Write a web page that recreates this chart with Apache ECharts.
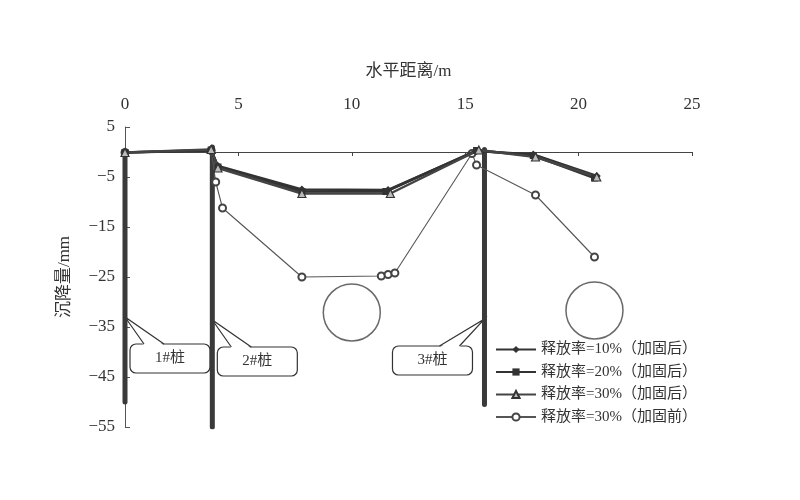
<!DOCTYPE html>
<html><head><meta charset="utf-8">
<script src="https://cdn.jsdelivr.net/npm/echarts@6/dist/echarts.min.js"></script>
<style>html,body{margin:0;padding:0;background:#fff}#c{width:800px;height:500px}</style>
</head><body><div id="c"></div>
<script>
// ---- data ----
const seriesNames = ['释放率=10%（加固后）','释放率=20%（加固后）','释放率=30%（加固后）','释放率=30%（加固前）'];
const rate10After = [[0,-0.1],[3.8,0.3],[4.1,-2.8],[7.8,-7.5],[11.6,-7.6],[15.5,0.2],[18.0,-0.5],[20.8,-4.8]];
const rate20After = [[0,-0.1],[3.8,0.4],[4.1,-3.0],[7.8,-7.9],[11.5,-7.9],[15.5,0.3],[18.0,-0.7],[20.7,-5.2]];
const rate30After = [[0,-0.1],[3.8,0.5],[4.1,-3.2],[7.8,-8.3],[11.7,-8.3],[15.6,0.4],[18.1,-1.0],[20.8,-5.0]];
const rate30Before = [[0,-0.1],[3.8,0.3],[4.0,-6.0],[4.3,-11.2],[7.8,-25.0],[11.3,-24.8],[11.6,-24.5],[11.9,-24.2],[15.3,-0.3],[15.5,-2.6],[18.1,-8.6],[20.7,-21.0]];
const pile1 = [[0,0],[0,-50]];
const pile2 = [[3.85,1.0],[3.85,-55]];
const pile3 = [[15.85,0.5],[15.85,-50.5]];
const pileLabels = ['1#桩','2#桩','3#桩'];
const pileLabelAnchors = [[0,-33.0,1],[3.85,-33.6,1],[15.85,-33.4,-1]];
const tunnels = [[10,-32.1],[20.7,-31.7]];
const xMin = 0, xMax = 25, xStep = 5;
const yMin = -55, yMax = 5, yStep = 10;
const xName = '水平距离/m';
const yName = '沉降量/mm';

const FONT = '"Liberation Serif","Noto Sans CJK SC",serif';
const INK = '#333';

const chart = echarts.init(document.getElementById('c'), null, {renderer:'canvas'});

function pileSeries(d){
  return {type:'line', data:d, symbol:'none', silent:true, z:3,
    lineStyle:{color:'#3a3a3a', width:5, cap:'round'}};
}

const option = {
  backgroundColor:'#fff',
  animation:false,
  grid:{left:125, right:108, top:127, bottom:73},
  legend:{
    data:seriesNames, orient:'vertical', left:490, top:337,
    itemWidth:40, itemHeight:9, itemGap:7.5,
    textStyle:{fontFamily:FONT, fontSize:15, color:INK}
  },
  xAxis:[
    {type:'value', position:'top', min:xMin, max:xMax, interval:xStep,
     name:xName, nameLocation:'middle', nameGap:47,
     nameTextStyle:{fontFamily:FONT, fontSize:17, color:INK},
     axisLine:{show:false, onZero:false}, axisTick:{show:false}, splitLine:{show:false},
     axisLabel:{fontFamily:FONT, fontSize:17, color:INK, margin:14}},
    {type:'value', position:'top', min:xMin, max:xMax, interval:xStep,
     axisLine:{show:true, onZero:true, onZeroAxisIndex:0, lineStyle:{color:'#444', width:1.2}},
     axisTick:{show:true, inside:true, length:4, lineStyle:{color:'#444'}},
     axisLabel:{show:false}, splitLine:{show:false}}
  ],
  yAxis:{type:'value', min:yMin, max:yMax, interval:yStep,
    name:yName, nameLocation:'middle', nameGap:52,
    nameTextStyle:{fontFamily:FONT, fontSize:17, color:INK},
    axisLine:{show:true, onZero:false, lineStyle:{color:'#555', width:1}},
    axisTick:{show:true, inside:true, length:5, lineStyle:{color:'#555'}},
    splitLine:{show:false},
    axisLabel:{fontFamily:FONT, fontSize:17, color:INK, margin:10,
      formatter:v=>String(v).replace('-','−')}
  },
  series:[
    pileSeries(pile1), pileSeries(pile2), pileSeries(pile3),
    {type:'scatter', data:tunnels, symbol:'circle', symbolSize:57, silent:true, z:1,
     itemStyle:{color:'rgba(0,0,0,0)', borderColor:'#444', borderWidth:1.5}},
    {type:'custom', z:2, silent:true, data:pileLabelAnchors,
     renderItem:function(params, api){
       const p = api.coord([api.value(0), api.value(1)]);
       const side = api.value(2);
       const w = 80, h = 29, top = p[1]+27;
       let left, ta, tb;
       if(side > 0){ left = p[0]+5; ta = p[0]+19; tb = p[0]+39; }
       else { left = p[0]-92; ta = p[0]-45; tb = p[0]-25; }
       return {type:'group', children:[
         {type:'rect', shape:{x:left, y:top, width:w, height:h, r:6},
          style:{fill:'#fff', stroke:'#333', lineWidth:1.2}},
         {type:'polygon', shape:{points:[[ta,top+1.5],[p[0],p[1]],[tb,top+1.5]]},
          style:{fill:'#fff', stroke:null}},
         {type:'polyline', shape:{points:[[ta,top],[p[0],p[1]],[tb,top]]},
          style:{stroke:'#333', fill:null, lineWidth:1.2}},
         {type:'text', style:{text:pileLabels[params.dataIndex], x:left+w/2, y:top+h/2,
          align:'center', verticalAlign:'middle', font:'15px '+FONT, fill:'#333'}}
       ]};
     }},
    {name:seriesNames[0], type:'line', data:rate10After, z:5,
     symbol:'diamond', symbolSize:8,
     lineStyle:{color:'#333', width:2.5}, itemStyle:{color:'#333'}},
    {name:seriesNames[1], type:'line', data:rate20After, z:5,
     symbol:'rect', symbolSize:7,
     lineStyle:{color:'#333', width:2.5}, itemStyle:{color:'#333'}},
    {name:seriesNames[2], type:'line', data:rate30After, z:5,
     symbol:'triangle', symbolSize:8,
     lineStyle:{color:'#444', width:2.5}, itemStyle:{color:'#bbb', borderColor:'#333', borderWidth:1.2}},
    {name:seriesNames[3], type:'line', data:rate30Before, z:4,
     symbol:'emptyCircle', symbolSize:7,
     lineStyle:{color:'#555', width:1.1}, itemStyle:{color:'#444', borderWidth:1.2}}
  ]
};
chart.setOption(option);
</script>
</body></html>
